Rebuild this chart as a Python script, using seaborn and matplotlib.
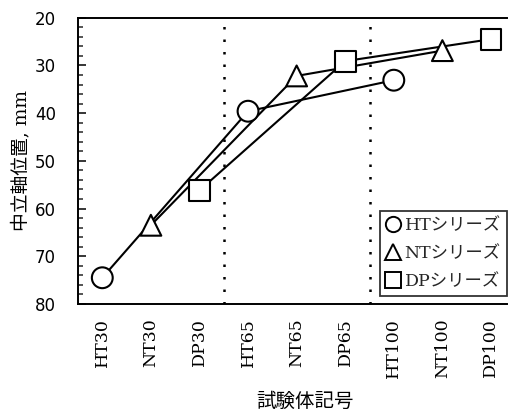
import matplotlib
matplotlib.use("Agg")
import matplotlib.pyplot as plt
from matplotlib.lines import Line2D
from matplotlib.ticker import MultipleLocator
import numpy as np
import pandas as pd
import seaborn as sns

# Specimen labels along the x axis
categories = ["HT30", "NT30", "DP30", "HT65", "NT65", "DP65", "HT100", "NT100", "DP100"]

# Neutral axis depth (mm) for each series, by size 30 / 65 / 100
sizes = ["30", "65", "100"]
ht_values = [74.5, 39.6, 33.1]
nt_values = [63.5, 32.2, 26.9]
dp_values = [56.2, 29.1, 24.5]

series_names = ["HT", "NT", "DP"]
legend_labels = ["HTシリーズ", "NTシリーズ", "DPシリーズ"]
series_markers = {"HT": "o", "NT": "^", "DP": "s"}

rows = []
for name, vals in zip(series_names, [ht_values, nt_values, dp_values]):
    for size, v in zip(sizes, vals):
        rows.append({"series": name, "pos": categories.index(name + size), "depth": v})
df = pd.DataFrame(rows)

sns.set_theme(style="white")
plt.rcParams["font.family"] = ["DejaVu Sans", "Noto Sans CJK JP"]

fig = plt.figure(figsize=(5.11, 4.15), dpi=100)
ax = fig.add_axes([78 / 511, 1 - 304 / 415, (507 - 78) / 511, (304 - 17.7) / 415])

# group separators
for xv in (2.5, 5.5):
    ax.axvline(xv, color="black", lw=1.8, linestyle=(0, (1.0, 4.0)), zorder=1)

sns.lineplot(data=df, x="pos", y="depth", units="series", estimator=None,
             color="black", lw=1.5, sort=True, ax=ax, legend=False, zorder=2)
sns.scatterplot(data=df, x="pos", y="depth", style="series", markers=series_markers,
                s=225, color="white", edgecolor="black", linewidth=1.5,
                ax=ax, legend=False, zorder=3)

ax.set_xlim(-0.5, 8.33)
ax.set_ylim(80, 20)
ax.yaxis.set_major_locator(MultipleLocator(10))
ax.yaxis.set_minor_locator(MultipleLocator(2))
ax.tick_params(axis="y", which="major", direction="in", length=6, width=1.3,
               left=True, pad=16, labelsize=12, labelcolor="black")
ax.tick_params(axis="y", which="minor", direction="in", length=3.6, width=1.1, left=True)
ax.set_xticks(range(len(categories)))
ax.set_xticklabels(categories, rotation=90, fontfamily="DejaVu Serif", fontsize=12.5)
ax.tick_params(axis="x", length=0, pad=10, labelcolor="black")

for side in ("left", "top", "bottom"):
    ax.spines[side].set_color("black")
    ax.spines[side].set_linewidth(1.4)
ax.spines["right"].set_visible(False)

ax.set_ylabel("中立軸位置, mm", fontsize=13.5, family=["DejaVu Serif", "Noto Sans CJK JP"],
              color="black")
ax.yaxis.set_label_coords(-0.112, 0.5)
ax.set_xlabel("試験体記号", fontsize=14, family=["Noto Sans CJK JP"], color="black")
ax.xaxis.set_label_coords(0.529, -0.305)

handles = [Line2D([], [], linestyle="none", marker=series_markers[n], markersize=11,
                  markerfacecolor="white", markeredgecolor="black", markeredgewidth=1.4)
           for n in series_names]
leg = ax.legend(handles, legend_labels, loc="lower right", bbox_to_anchor=(1.0, 8 / 286),
                borderaxespad=0, frameon=True, fancybox=False, handlelength=0.75,
                handletextpad=0.3, labelspacing=0.62, borderpad=0.35,
                prop={"family": ["DejaVu Serif", "Noto Sans CJK JP"], "size": 12.5})
leg.get_frame().set_edgecolor("black")
leg.get_frame().set_linewidth(1.3)

fig.savefig("out.png", dpi=100, facecolor="white")
